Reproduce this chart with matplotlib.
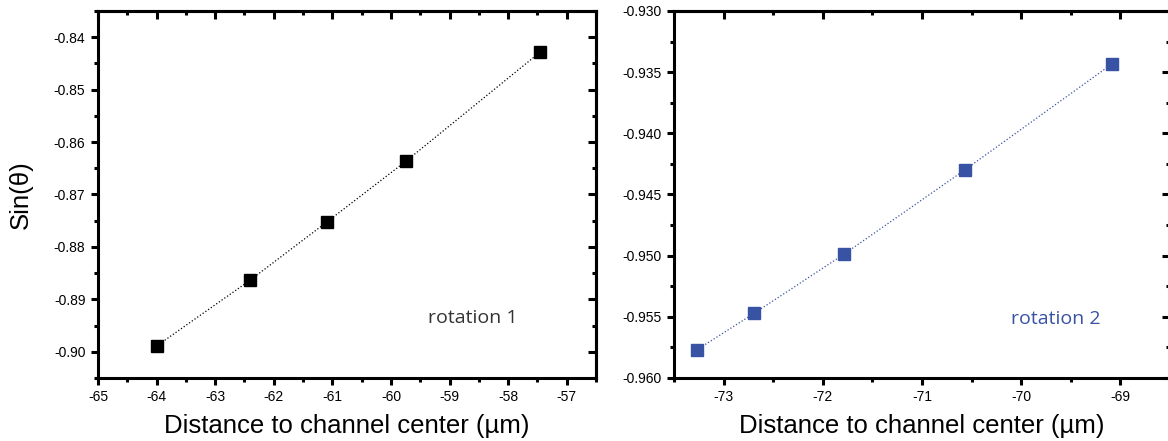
import matplotlib
matplotlib.use("Agg")
import matplotlib.pyplot as plt
from matplotlib.ticker import MultipleLocator, FormatStrFormatter

plt.rcParams["font.family"] = ["Liberation Sans", "DejaVu Sans"]
plt.rcParams["axes.unicode_minus"] = False

# rotation 1 data
x_rot1 = [-64.0, -62.41, -61.1, -59.75, -57.46]
y_rot1 = [-0.8989, -0.8864, -0.8753, -0.8637, -0.8429]

# rotation 2 data
x_rot2 = [-73.27, -72.69, -71.79, -70.57, -69.08]
y_rot2 = [-0.9577, -0.9547, -0.9499, -0.9430, -0.9343]

BLUE = "#3953a4"
SPINE_W = 2.2


def style_axes(ax, xmaj, xmin, ymaj, ymin, yfmt):
    for s in ax.spines.values():
        s.set_linewidth(SPINE_W)
    ax.xaxis.set_major_locator(MultipleLocator(xmaj))
    ax.xaxis.set_minor_locator(MultipleLocator(xmin))
    ax.yaxis.set_major_locator(MultipleLocator(ymaj))
    ax.yaxis.set_minor_locator(MultipleLocator(ymin))
    ax.xaxis.set_major_formatter(FormatStrFormatter("%d"))
    ax.yaxis.set_major_formatter(FormatStrFormatter(yfmt))
    ax.tick_params(which="major", direction="out", length=5, width=SPINE_W,
                   labelsize=10, pad=4)
    ax.tick_params(which="minor", direction="out", length=3, width=SPINE_W)

    # mirrored ticks pointing inward on top and right
    top = ax.secondary_xaxis("top")
    top.xaxis.set_major_locator(MultipleLocator(xmaj))
    top.xaxis.set_minor_locator(MultipleLocator(xmin))
    top.tick_params(which="major", direction="in", length=6, width=SPINE_W, labeltop=False)
    top.tick_params(which="minor", direction="in", length=3, width=SPINE_W)
    top.spines["top"].set_linewidth(SPINE_W)
    right = ax.secondary_yaxis("right")
    right.yaxis.set_major_locator(MultipleLocator(ymaj))
    right.yaxis.set_minor_locator(MultipleLocator(ymin))
    right.tick_params(which="major", direction="in", length=6, width=SPINE_W, labelright=False)
    right.tick_params(which="minor", direction="in", length=3, width=SPINE_W)
    right.spines["right"].set_linewidth(SPINE_W)


fig = plt.figure(figsize=(11.68, 4.41), dpi=100)

# left panel
ax1 = fig.add_axes([0.0839, 0.1429, 0.4264, 0.8322])
ax1.plot(x_rot1, y_rot1, linestyle=":", color="black", linewidth=0.9,
         marker="s", markersize=8.5, markerfacecolor="black", markeredgecolor="black")
ax1.set_xlim(-65, -56.5)
ax1.set_ylim(-0.905, -0.835)
style_axes(ax1, 1, 0.5, 0.01, 0.005, "%.2f")
ax1.set_xlabel("Distance to channel center (µm)", fontsize=18.5, labelpad=7)
ax1.set_ylabel("Sin(θ)", fontsize=18.5, labelpad=15)
ax1.text(-58.6, -0.8935, "rotation 1", fontsize=14, color="#333333",
         family=["Open Sans", "DejaVu Sans"], ha="center", va="center")

# right panel
ax2 = fig.add_axes([0.5771, 0.1429, 0.4246, 0.8322])
ax2.plot(x_rot2, y_rot2, linestyle=":", color=BLUE, linewidth=0.9,
         marker="s", markersize=8.5, markerfacecolor=BLUE, markeredgecolor=BLUE)
ax2.set_xlim(-73.5, -68.5)
ax2.set_ylim(-0.960, -0.930)
style_axes(ax2, 1, 0.5, 0.005, 0.0025, "%.3f")
ax2.set_xlabel("Distance to channel center (µm)", fontsize=18.5, labelpad=7)
ax2.text(-69.65, -0.9552, "rotation 2", fontsize=14, color=BLUE,
         family=["Open Sans", "DejaVu Sans"], ha="center", va="center")

fig.savefig("out.png", dpi=100)
